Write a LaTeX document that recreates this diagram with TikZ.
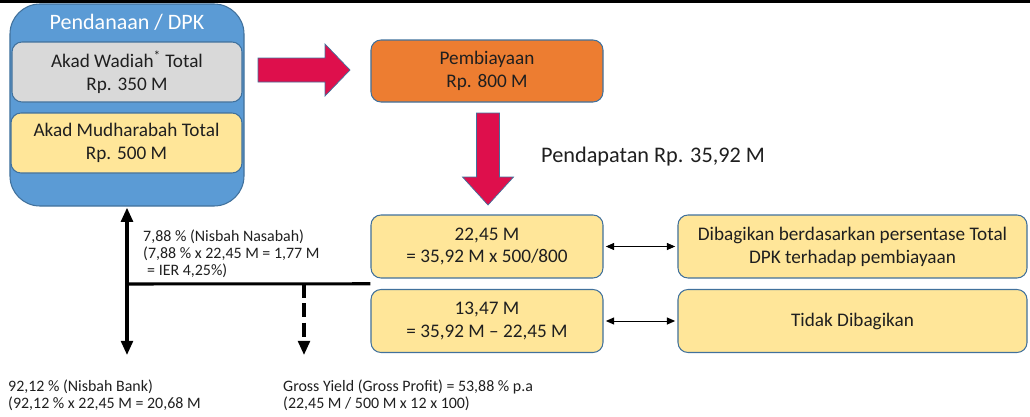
\documentclass[tikz,border=0pt]{standalone}
\usepackage{fontspec}
\setmainfont{Carlito}
\usetikzlibrary{arrows.meta,calc}
\definecolor{birufill}{HTML}{5B9BD5}
\definecolor{birugaris}{HTML}{41719C}
\definecolor{kuning}{HTML}{FFE699}
\definecolor{abu}{HTML}{D9D9D9}
\definecolor{oranye}{HTML}{ED7D31}
\definecolor{merah}{HTML}{DE0F4C}
\definecolor{teks}{HTML}{1F1F1F}
\tikzset{
  kotak/.style={draw=birugaris, line width=0.9pt, rounded corners=0.3cm, align=center, inner sep=0pt, text=teks, font=\fontsize{16.4}{19.5}\selectfont},
  kotakkiri/.style={kotak, fill=kuning, minimum width=6.96cm, minimum height=1.89cm},
  kotakkanan/.style={kotak, fill=kuning, minimum width=10.47cm, minimum height=1.89cm},
  panah/.style={draw=birugaris, line width=0.6pt, fill=merah},
  garistebal/.style={line width=2.6pt},
  ket/.style={anchor=west, align=left, inner sep=0pt, text=teks, font=\fontsize{13.6}{14.6}\selectfont},
}
\begin{document}
\begin{tikzpicture}[x=0.03cm,y=-0.03cm]
\useasboundingbox (0,0) rectangle (1030,416);
\draw[line width=2.6pt] (0,1.5) -- (1030,1.5);

% pendanaan
\node[kotak, fill=birufill, rounded corners=0.9cm, minimum width=7.02cm, minimum height=6.06cm] (dpk) at (127,105) {};
\node[text=white, font=\fontsize{18.8}{22}\selectfont] (judul) at (127,22) {Pendanaan / DPK};
\node[kotak, fill=abu, minimum width=6.9cm, minimum height=1.8cm] (wadiah) at (127,72) {Akad Wadiah\textsuperscript{*} Total\\Rp. 350 M};
\node[kotak, fill=kuning, minimum width=6.93cm, minimum height=1.8cm] (mudharabah) at (126.5,143) {Akad Mudharabah Total\\Rp. 500 M};

\node[kotak, fill=oranye, minimum width=6.96cm, minimum height=1.86cm] (pemb) at (487,71) {Pembiayaan\\Rp. 800 M};

% panah merah
\draw[panah] (258,58) -- (325,58) -- (325,44) -- (350,70) -- (325,96) -- (325,82) -- (258,82) -- cycle;
\draw[panah] (476.5,113) -- (499.5,113) -- (499.5,177) -- (513.5,177) -- (488,205) -- (462.5,177) -- (476.5,177) -- cycle;

\node[anchor=west, inner sep=0pt, text=teks, font=\fontsize{19}{22}\selectfont] (pendapatan) at (541,157) {Pendapatan Rp. 35,92 M};

\node[kotakkiri] (hasil1) at (487,246.5) {22,45 M\\= 35,92 M x 500/800};
\node[kotakkiri] (hasil2) at (487,321) {13,47 M\\= 35,92 M -- 22,45 M};
\node[kotakkanan] (bagi) at (852.5,246.5) {Dibagikan berdasarkan persentase Total\\DPK terhadap pembiayaan};
\node[kotakkanan] (tidak) at (852.5,321) {Tidak Dibagikan};

\draw[{Triangle[width=6pt,length=7pt]}-{Triangle[width=6pt,length=7pt]}, line width=0.8pt, shorten <=2pt, shorten >=2pt] (hasil1) -- (bagi);
\draw[{Triangle[width=6pt,length=7pt]}-{Triangle[width=6pt,length=7pt]}, line width=0.8pt, shorten <=2pt, shorten >=2pt] (hasil2) -- (tidak);

% garis nisbah
\coordinate (cabang) at (127,284);
\coordinate (bawah) at (127,355);
\coordinate (ujung) at ($(hasil1.south west)!0.5!(hasil2.north west)$);
\coordinate (yield) at (304,284);
\coordinate (yieldbawah) at (304,355);
\draw[garistebal, {Triangle[width=10pt,length=12pt]}-{Triangle[width=10pt,length=12pt]}, shorten <=1pt] (dpk.south) -- (bawah);
\draw[garistebal] (cabang) -- (ujung);
\draw[garistebal, dash pattern=on 12pt off 4.5pt, -{Triangle[width=10pt,length=12pt]}] (yield) -- (yieldbawah);

\node[ket] (nasabah) at (143,254) {7,88 \% (Nisbah Nasabah)\\(7,88 \% x 22,45 M = 1,77 M\\\hspace{0.25em}= IER 4,25\%)};
\node[ket] (bank) at (8,395.5) {92,12 \% (Nisbah Bank)\\(92,12 \% x 22,45 M = 20,68 M};
\node[ket] (gross) at (283,395.5) {Gross Yield (Gross Profit) = 53,88 \% p.a\\(22,45 M / 500 M x 12 x 100)};
\end{tikzpicture}
\end{document}
